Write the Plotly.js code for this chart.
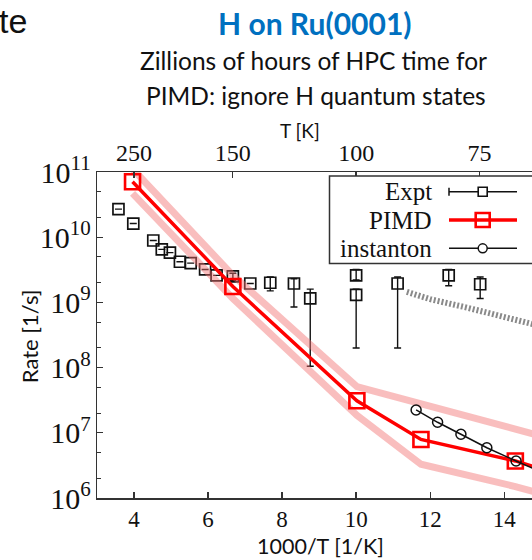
<!DOCTYPE html>
<html>
<head>
<meta charset="utf-8">
<script src="https://cdn.plot.ly/plotly-3.0.1.min.js"></script>
<style>html,body{margin:0;padding:0;background:#fff;}#chart{width:532px;height:560px;}</style>
</head>
<body>
<div id="chart"></div>
<script>
// ---- data ----
const exptInvT = [3.58, 3.98, 4.52, 4.75, 4.97, 5.24, 5.53, 5.92, 6.23, 6.67, 7.14, 7.68, 8.32, 8.76, 10.0, 10.0, 11.12, 12.5, 13.35];
const exptRate = [2.7e10, 1.62e10, 8.9e9, 6.5e9, 5.8e9, 4.2e9, 4.0e9, 3.2e9, 2.6e9, 2.5e9, 1.95e9, 2.0e9, 1.95e9, 1.15e9, 2.6e9, 1.3e9, 1.95e9, 2.6e9, 1.9e9];
const exptHigh = [null, null, null, null, null, null, null, null, null, 2.8e9, null, 2.45e9, 2.3e9, 1.6e9, 3.2e9, 1.6e9, 2.45e9, 3.2e9, 2.45e9];
const exptLow  = [null, null, null, null, null, null, null, null, null, 2.15e9, null, 1.5e9, 8.5e8, 1.05e8, 2.2e9, 2.0e8, 2.0e8, 1.8e9, 1.15e9];

const pimdInvT = [3.96, 6.67, 10.02, 11.75, 14.3, 15.0];
const pimdRate = [7.1e10, 1.75e9, 3.1e7, 7.9e6, 3.7e6, 2.8e6];
const pimdUpper = [1.12e11, 2.6e9, 5.1e7, 2.75e7, 1.07e7, 8.9e6];
const pimdLower = [4.7e10, 1.15e9, 1.86e7, 3.3e6, 1.5e6, 1.17e6];

const instInvT = [11.62, 12.2, 12.83, 13.53, 14.32, 15.0];
const instRate = [2.24e7, 1.45e7, 9.5e6, 5.9e6, 3.7e6, 2.5e6];

const greyInvT = [11.37, 12.0, 13.0, 14.0, 15.0];
const greyRate = [1.45e9, 1.12e9, 8.3e8, 6.0e8, 4.3e8];

const xTicks = [4, 6, 8, 10, 12, 14];
const topTicksK = [250, 150, 100, 75];
const legendNames = ['Expt', 'PIMD', 'instanton'];

// ---- build ----
const errPlus = exptRate.map((r, i) => exptHigh[i] === null ? 0 : exptHigh[i] - r);
const errMinus = exptRate.map((r, i) => exptLow[i] === null ? 0 : r - exptLow[i]);

const serif = 'Liberation Serif, Times New Roman, serif';
const sans = 'Lato, Open Sans, sans-serif';
const bandColor = 'rgba(242,110,110,0.45)';

const traces = [
  {x: greyInvT, y: greyRate, mode: 'lines', line: {color: '#8a8a8a', width: 6, dash: '2px,2px'}, hoverinfo: 'skip'},
  {x: exptInvT, y: exptRate, mode: 'markers', marker: {symbol: 'square-open', size: 11, color: '#111', line: {width: 1.7}},
   error_y: {type: 'data', symmetric: false, array: errPlus, arrayminus: errMinus, color: '#111', thickness: 1.4, width: 3.5}},
  {x: pimdInvT, y: pimdUpper, mode: 'lines', line: {color: bandColor, width: 7}, hoverinfo: 'skip'},
  {x: pimdInvT, y: pimdLower, mode: 'lines', line: {color: bandColor, width: 7}, hoverinfo: 'skip'},
  {x: pimdInvT, y: pimdRate, mode: 'lines+markers', line: {color: '#ff0000', width: 3.5},
   marker: {symbol: 'square-open', size: 15, color: '#ff0000', line: {width: 2.6}}},
  {x: instInvT, y: instRate, mode: 'lines+markers', line: {color: '#111', width: 1.5},
   marker: {symbol: 'circle-open', size: 10, color: '#111', line: {width: 1.5}}},
  {x: [null], y: [null], xaxis: 'x2', yaxis: 'y', showlegend: false}
];

const L = 97, T = 172, W = 435, H = 325.7;
const px = v => (v - L) / W;
const py = v => (T + H - v) / H;

// legend (text left, sample right as in the reference)
const legY = [191.7, 220, 248.3];
const shapes = [
  {type: 'rect', xref: 'paper', yref: 'paper', x0: px(329.5), x1: px(545), y0: py(263.5), y1: py(176), line: {color: '#333', width: 1.5}, fillcolor: '#fff', layer: 'above'},
  // Expt sample
  {type: 'line', xref: 'paper', yref: 'paper', x0: px(449), x1: px(517), y0: py(legY[0]), y1: py(legY[0]), line: {color: '#111', width: 1.5}},
  {type: 'line', xref: 'paper', yref: 'paper', x0: px(449), x1: px(449), y0: py(legY[0] - 4), y1: py(legY[0] + 4), line: {color: '#111', width: 1.5}},
  {type: 'rect', xref: 'paper', yref: 'paper', xsizemode: 'pixel', ysizemode: 'pixel', xanchor: px(482.7), yanchor: py(legY[0]), x0: -4.5, x1: 4.5, y0: -4.5, y1: 4.5, line: {color: '#111', width: 1.6}, fillcolor: '#fff'},
  // PIMD sample
  {type: 'line', xref: 'paper', yref: 'paper', x0: px(449), x1: px(517), y0: py(legY[1]), y1: py(legY[1]), line: {color: '#ff0000', width: 3.5}},
  {type: 'rect', xref: 'paper', yref: 'paper', xsizemode: 'pixel', ysizemode: 'pixel', xanchor: px(482.7), yanchor: py(legY[1]), x0: -7, x1: 7, y0: -7, y1: 7, line: {color: '#ff0000', width: 2.6}},
  // instanton sample
  {type: 'line', xref: 'paper', yref: 'paper', x0: px(449), x1: px(517), y0: py(legY[2]), y1: py(legY[2]), line: {color: '#111', width: 1.5}},
  {type: 'circle', xref: 'paper', yref: 'paper', xsizemode: 'pixel', ysizemode: 'pixel', xanchor: px(482.7), yanchor: py(legY[2]), x0: -4.5, x1: 4.5, y0: -4.5, y1: 4.5, line: {color: '#111', width: 1.5}, fillcolor: '#fff'}
];

const annotations = legendNames.map((n, i) => ({
  text: n, xref: 'paper', yref: 'paper', x: px(434), y: py(legY[i]), xanchor: 'right', yanchor: 'middle',
  showarrow: false, font: {family: serif, size: 25, color: '#111'}
}));
annotations.push(
  {text: 'te', xref: 'paper', yref: 'paper', x: px(29), y: py(21), xanchor: 'right', yanchor: 'middle', showarrow: false, font: {family: 'Liberation Sans, Arial, sans-serif', size: 34, color: '#111'}},
  {text: '<b>H on Ru(0001)</b>', xref: 'paper', yref: 'paper', x: px(315), y: py(23), xanchor: 'center', yanchor: 'middle', showarrow: false, font: {family: sans, size: 30, color: '#0070C0'}},
  {text: 'Zillions of hours of HPC time for', xref: 'paper', yref: 'paper', x: px(313), y: py(61), xanchor: 'center', yanchor: 'middle', showarrow: false, font: {family: sans, size: 24.5, color: '#111'}},
  {text: 'PIMD: ignore H quantum states', xref: 'paper', yref: 'paper', x: px(316), y: py(96), xanchor: 'center', yanchor: 'middle', showarrow: false, font: {family: sans, size: 24.5, color: '#111'}},
  {text: 'T [K]', xref: 'paper', yref: 'paper', x: px(300), y: py(131), xanchor: 'center', yanchor: 'middle', showarrow: false, font: {family: sans, size: 19, color: '#111'}},
  {text: '1000/T [1/K]', xref: 'paper', yref: 'paper', x: px(320), y: py(546), xanchor: 'center', yanchor: 'middle', showarrow: false, font: {family: sans, size: 21.5, color: '#111'}},
  {text: 'Rate [1/s]', xref: 'paper', yref: 'paper', x: px(29), y: py(336), xanchor: 'center', yanchor: 'middle', textangle: -90, showarrow: false, font: {family: sans, size: 22, color: '#111'}}
);

const layout = {
  width: 532, height: 560,
  margin: {l: L, r: 0, t: T, b: 560 - T - H},
  paper_bgcolor: '#fff', plot_bgcolor: '#fff',
  showlegend: false,
  xaxis: {
    range: [3, 14.75], tickvals: xTicks, ticks: 'inside', ticklen: 6, tickwidth: 1.3, tickcolor: '#333',
    showline: true, linecolor: '#333', linewidth: 1.5, mirror: false, showgrid: false, zeroline: false,
    tickfont: {family: serif, size: 23, color: '#111'}
  },
  xaxis2: {
    overlaying: 'x', side: 'top', range: [3, 14.75], tickvals: topTicksK.map(t => 1000 / t), ticktext: topTicksK.map(String),
    ticks: 'inside', ticklen: 6, tickwidth: 1.3, tickcolor: '#333',
    showline: true, linecolor: '#333', linewidth: 1.5, showgrid: false, zeroline: false,
    tickfont: {family: serif, size: 24, color: '#111'}
  },
  yaxis: {
    type: 'log', range: [6, 11], dtick: 1, exponentformat: 'power', ticks: 'inside', ticklen: 6, tickwidth: 1.3, tickcolor: '#333',
    minor: {ticks: 'inside', ticklen: 4, dtick: 'D2', tickcolor: '#333', tickwidth: 1, showgrid: false},
    showline: true, linecolor: '#333', linewidth: 1.5, mirror: false, showgrid: false, zeroline: false,
    tickfont: {family: serif, size: 24, color: '#111'}
  },
  shapes: shapes,
  annotations: annotations
};

Plotly.newPlot('chart', traces, layout, {displayModeBar: false, staticPlot: true});
</script>
</body>
</html>
